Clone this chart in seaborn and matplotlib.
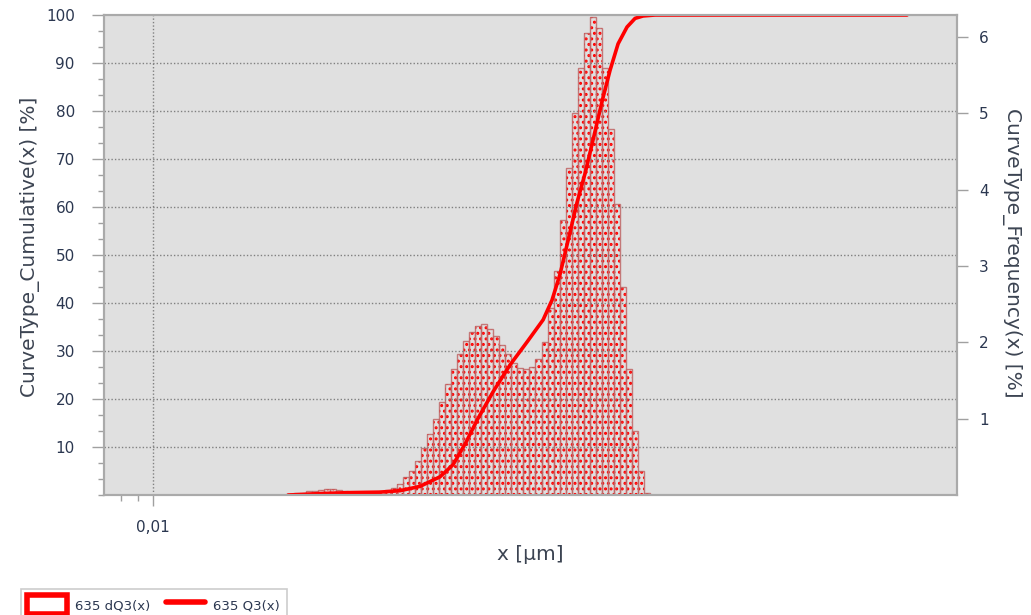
import numpy as np
import matplotlib
matplotlib.use("Agg")
import matplotlib.pyplot as plt
import seaborn as sns
from matplotlib.ticker import FixedLocator, FixedFormatter, NullFormatter, MultipleLocator
from matplotlib.patches import Patch
from matplotlib.lines import Line2D

# ---- data ----
# particle size class centres [µm] of the frequency histogram
size_um = [0.02583, 0.02693, 0.02807, 0.02926, 0.03049, 0.03178, 0.03313, 0.03453,
           0.03599, 0.03751, 0.03910, 0.04076, 0.04248, 0.04428, 0.04615, 0.04811,
           0.05014, 0.05226, 0.05447, 0.05678, 0.05918, 0.06169, 0.06430, 0.06702,
           0.06986, 0.07281, 0.07590, 0.07911, 0.08246, 0.08595, 0.08959, 0.09338,
           0.09733, 0.1015, 0.1057, 0.1102, 0.1149, 0.1197, 0.1248, 0.1301,
           0.1356, 0.1413, 0.1473, 0.1535, 0.1600, 0.1668, 0.1739, 0.1812,
           0.1889, 0.1969, 0.2052, 0.2139, 0.2230, 0.2324, 0.2422, 0.2525,
           0.2632, 0.2743, 0.2859, 0.2980]
# dQ3(x) frequency [%]
freq_pct = [0.01, 0.03, 0.03, 0.05, 0.05, 0.07, 0.08, 0.08,
            0.06, 0.05, 0.04, 0.03, 0.03, 0.03, 0.03, 0.05,
            0.06, 0.09, 0.15, 0.23, 0.32, 0.45, 0.62, 0.80,
            1.00, 1.22, 1.45, 1.65, 1.85, 2.02, 2.14, 2.22,
            2.24, 2.18, 2.09, 1.97, 1.85, 1.73, 1.66, 1.65,
            1.68, 1.78, 2.00, 2.45, 2.94, 3.60, 4.29, 5.00,
            5.60, 6.05, 6.27, 6.12, 5.60, 4.80, 3.81, 2.72,
            1.65, 0.84, 0.31, 0.03]
# Q3(x) cumulative curve
cum_x_um = [0.02529, 0.02747, 0.03151, 0.03874, 0.04760, 0.05463, 0.06266, 0.07190,
            0.07862, 0.08596, 0.09272, 0.1035, 0.1163, 0.1308, 0.1460, 0.1552,
            0.1640, 0.1733, 0.1844, 0.1948, 0.2058, 0.2189, 0.2313, 0.2444,
            0.2599, 0.2747, 0.2902, 0.3151, 1.781]
cum_pct = [0.0, 0.1, 0.3, 0.5, 0.6, 0.9, 1.8, 3.8,
           6.3, 11.0, 15.6, 21.5, 27.1, 31.9, 36.5, 40.6,
           46.0, 53.0, 61.0, 67.0, 74.0, 82.0, 88.5, 94.0,
           97.5, 99.3, 99.8, 100.0, 100.0]

x_ticks = [0.01]
x_tick_labels = ["0,01"]
x_minor = [0.008, 0.009]
left_ticks = [10, 20, 30, 40, 50, 60, 70, 80, 90, 100]
right_ticks = [1, 2, 3, 4, 5, 6]

# ---- style ----
sns.set_theme(style="white")
plt.rcParams['font.family'] = ['DejaVu Sans']
plt.rcParams['hatch.linewidth'] = 1.4

W, H = 1031, 615
fig = plt.figure(figsize=(W / 100, H / 100), dpi=100)
fig.patch.set_facecolor('white')
L, R, T, B = 104, 957, 15, 495
ax = fig.add_axes([L / W, 1 - B / H, (R - L) / W, (B - T) / H])
ax.set_xscale('log')
ax2 = ax.twinx()
ax.set_zorder(ax2.get_zorder() + 1)
ax.patch.set_visible(False)
ax2.patch.set_visible(True)
ax2.set_facecolor('#e0e0e0')

# histogram (frequency, right axis)
binw = 0.01801
lo = np.log10(size_um[0]) - binw / 2
rng = (lo, lo + binw * len(size_um))
sns.histplot(x=size_um, weights=freq_pct, bins=len(size_um), binrange=rng,
             log_scale=True, ax=ax2, element='bars', fill=True,
             facecolor=(1, 1, 1, 0), edgecolor='#ff0000', linewidth=0, hatch='...')
sns.histplot(x=size_um, weights=freq_pct, bins=len(size_um), binrange=rng,
             log_scale=True, ax=ax2, element='bars', fill=False,
             color=(0.75, 0.40, 0.40), alpha=0.85, linewidth=1.0)

# cumulative curve (left axis)
sns.lineplot(x=cum_x_um, y=cum_pct, ax=ax, color='#ff0000', linewidth=2.6)

# ---- axes ----
ax.set_xlim(0.00714, 2.51)
ax.set_ylim(0, 100)
ax2.set_ylim(0, 6.29)

ax.xaxis.set_major_locator(FixedLocator(x_ticks))
ax.xaxis.set_major_formatter(FixedFormatter(x_tick_labels))
ax.xaxis.set_minor_locator(FixedLocator(x_minor))
ax.xaxis.set_minor_formatter(NullFormatter())
ax.yaxis.set_major_locator(FixedLocator(left_ticks))
ax.yaxis.set_minor_locator(MultipleLocator(10 / 3))
ax.yaxis.set_minor_formatter(NullFormatter())
ax2.yaxis.set_major_locator(FixedLocator(right_ticks))
ax2.yaxis.set_minor_locator(FixedLocator([]))

tick_c = '#a0a0a0'
lab_c = '#2b3750'
ax.tick_params(axis='y', which='major', left=True, direction='out', length=9, width=1,
               color=tick_c, pad=12, labelsize=11, labelcolor=lab_c)
ax.tick_params(axis='y', which='minor', left=True, direction='out', length=4, width=1, color=tick_c)
ax.tick_params(axis='x', which='major', bottom=True, direction='out', length=8, width=1,
               color=tick_c, pad=10, labelsize=11, labelcolor=lab_c)
ax.tick_params(axis='x', which='minor', bottom=True, direction='out', length=4, width=1, color=tick_c)
ax2.tick_params(axis='y', which='major', right=True, direction='out', length=8, width=1,
                color=tick_c, pad=8, labelsize=11, labelcolor=lab_c)

ax.grid(False)
ax2.grid(False)
for yv in left_ticks[:-1]:
    ax.axhline(yv, color='#808080', linestyle=(0, (1, 1.5)), linewidth=1.0, zorder=0.5)
for xv in x_ticks:
    ax.axvline(xv, color='#808080', linestyle=(0, (1, 1.5)), linewidth=1.0, zorder=0.5)

for a in (ax, ax2):
    for s in a.spines.values():
        s.set_color('#aaaaaa')
        s.set_linewidth(1.5)
    a.set_xlabel('')
    a.set_ylabel('')

# axis titles
lbl_c = '#3c4452'
fig.text(30 / W, 1 - 247 / H, 'CurveType_Cumulative(x) [%]', rotation=90,
         ha='center', va='center', fontsize=14.5, color=lbl_c)
fig.text(1012 / W, 1 - 253 / H, 'CurveType_Frequency(x) [%]', rotation=270,
         ha='center', va='center', fontsize=14.5, color=lbl_c)
fig.text(530 / W, 1 - 555 / H, 'x [µm]', ha='center', va='center', fontsize=14.5, color=lbl_c)

# legend
handles = [Patch(facecolor='none', edgecolor='#ff0000', linewidth=4),
           Line2D([0], [0], color='#ff0000', linewidth=4)]
leg = fig.legend(handles, ['635 dQ3(x)', '635 Q3(x)'], loc='lower left',
                 bbox_to_anchor=(14 / W, -0.02), ncol=2, fontsize=9.5,
                 frameon=True, fancybox=False, handlelength=3.0, handleheight=1.8,
                 columnspacing=1.2, handletextpad=0.6, borderpad=0.5)
leg.get_frame().set_edgecolor('#c0c0c0')
leg.get_frame().set_linewidth(1.2)
for t in leg.get_texts():
    t.set_color('#2b3750')

fig.savefig('out.png', dpi=100, facecolor='white')
